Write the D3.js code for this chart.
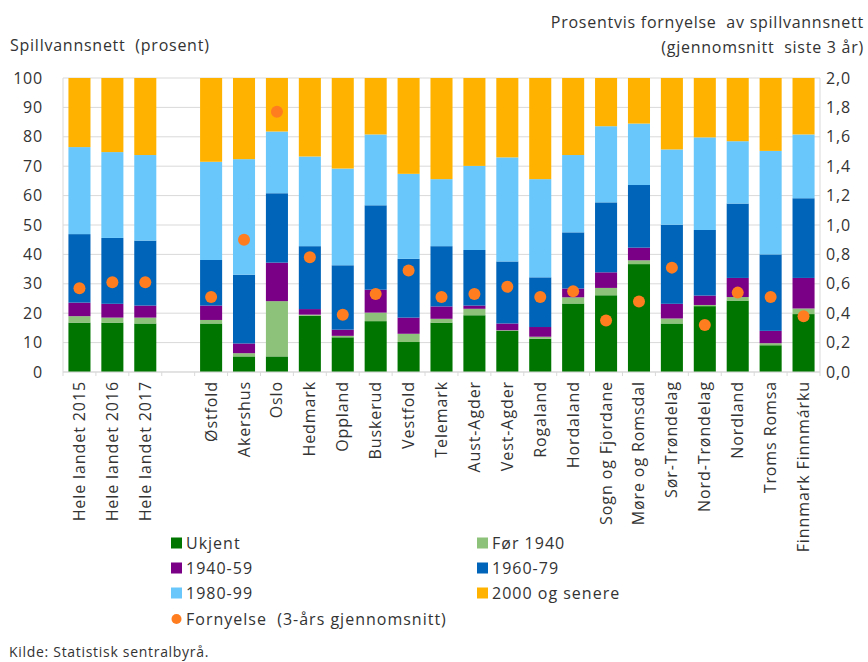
<!DOCTYPE html>
<html>
<head>
<meta charset="utf-8">
<script src="https://cdn.jsdelivr.net/npm/d3@7/dist/d3.min.js"></script>
<style>
  html, body { margin: 0; padding: 0; background: #fff; }
  svg { display: block; font-family: "Open Sans", sans-serif; }
</style>
</head>
<body>
<svg id="chart" width="868" height="662"></svg>
<script>
const categories = ["Hele landet 2015","Hele landet 2016","Hele landet 2017","",
  "Østfold","Akershus","Oslo","Hedmark","Oppland","Buskerud","Vestfold","Telemark",
  "Aust-Agder","Vest-Agder","Rogaland","Hordaland","Sogn og Fjordane","Møre og Romsdal",
  "Sør-Trøndelag","Nord-Trøndelag","Nordland","Troms Romsa","Finnmark Finnmárku"];

const ukjent   = [16.8,16.8,16.5,null,16.5, 5.3, 5.3,19.1,11.8,17.3,10.2,16.8,19.3,14.0,11.3,23.3,26.1,36.7,16.5,22.4,24.3, 9.1,19.7];
const for1940  = [ 2.2, 1.7, 2.0,null, 1.2, 1.1,18.8, 0.4, 0.5, 2.9, 2.8, 1.3, 2.2, 0.2, 0.7, 2.1, 2.5, 1.3, 1.7, 0.4, 1.2, 0.7, 1.9];
const s1940_59 = [ 4.6, 4.7, 4.1,null, 4.9, 3.3,13.1, 1.9, 2.1, 7.8, 5.5, 4.2, 1.1, 2.3, 3.3, 3.0, 5.3, 4.3, 5.0, 3.2, 6.5, 4.2,10.4];
const s1960_79 = [23.3,22.4,22.1,null,15.5,23.4,23.6,21.4,21.9,28.7,20.0,20.5,18.9,21.1,16.9,19.1,23.8,21.3,26.9,22.3,25.3,26.0,27.1];
const s1980_99 = [29.6,29.2,29.1,null,33.4,39.3,21.0,30.5,32.9,24.1,28.9,22.8,28.6,35.4,33.4,26.3,25.9,20.9,25.6,31.5,21.2,35.2,21.7];
const s2000    = [23.5,25.2,26.2,null,28.5,27.6,18.2,26.7,30.8,19.2,32.6,34.4,29.9,27.0,34.4,26.2,16.4,15.5,24.3,20.2,21.5,24.8,19.2];
const fornyelse = [0.57,0.61,0.61,null,0.51,0.90,1.77,0.78,0.39,0.53,0.69,0.51,0.53,0.58,0.51,0.55,0.35,0.48,0.71,0.32,0.54,0.51,0.38];

const seriesNames = ["Ukjent","Før 1940","1940-59","1960-79","1980-99","2000 og senere"];
const seriesColors = ["#007600","#8dc27b","#7a0085","#0064b8","#69c7fb","#ffb300"];
const dotName = "Fornyelse  (3-års gjennomsnitt)";
const dotColor = "#ff7d1f";
const leftTicks = [0,10,20,30,40,50,60,70,80,90,100];
const rightTicks = [0,0.2,0.4,0.6,0.8,1.0,1.2,1.4,1.6,1.8,2.0];

const svg = d3.select("#chart");
const textColor = "#333333";
const gridColor = "#d9d9d9";
const L = 63, R = 820, T = 78, B = 372;
const FS = "16px", LS = "0.8px";

const x = d3.scaleBand().domain(categories).range([L, R]).paddingInner(0.33).paddingOuter(0.165);
const y = d3.scaleLinear().domain([0, 100]).range([B, T]);
const y2 = d3.scaleLinear().domain([0, 2]).range([B, T]);

// gridlines
svg.append("g").selectAll("line").data(leftTicks).join("line")
  .attr("x1", L).attr("x2", R).attr("y1", d => y(d)).attr("y2", d => y(d))
  .attr("stroke", gridColor).attr("stroke-width", 1);
svg.append("line").attr("x1", L).attr("x2", L).attr("y1", T).attr("y2", B).attr("stroke", gridColor);
svg.append("line").attr("x1", R).attr("x2", R).attr("y1", T).attr("y2", B).attr("stroke", gridColor);

// stacked data
const seriesArrays = [ukjent, for1940, s1940_59, s1960_79, s1980_99, s2000];
const rows = categories.map((c, i) => {
  const o = { cat: c };
  seriesNames.forEach((n, k) => o[n] = seriesArrays[k][i]);
  return o;
}).filter(d => d.cat !== "");
const stack = d3.stack().keys(seriesNames).value((d, k) => d[k] || 0);
const stacked = stack(rows);

svg.append("g").selectAll("g").data(stacked).join("g")
  .attr("fill", (d, i) => seriesColors[i])
  .selectAll("rect").data(d => d).join("rect")
  .attr("x", d => x(d.data.cat))
  .attr("width", x.bandwidth())
  .attr("y", d => y(d[1]))
  .attr("height", d => Math.max(0, y(d[0]) - y(d[1])));

// x tick marks between categories
const gap = x.step() - x.bandwidth();
const bounds = categories.map(c => x(c) - gap / 2).concat([x(categories[categories.length - 1]) + x.bandwidth() + gap / 2]);
svg.append("g").selectAll("line").data(bounds).join("line")
  .attr("x1", d => d).attr("x2", d => d).attr("y1", B).attr("y2", B + 4)
  .attr("stroke", gridColor);
svg.append("line").attr("x1", L).attr("x2", R).attr("y1", B).attr("y2", B).attr("stroke", gridColor);

// dots
const dots = categories.map((c, i) => ({ cat: c, v: fornyelse[i] })).filter(d => d.v != null);
svg.append("g").selectAll("circle").data(dots).join("circle")
  .attr("cx", d => x(d.cat) + x.bandwidth() / 2)
  .attr("cy", d => y2(d.v))
  .attr("r", 6)
  .attr("fill", dotColor);

// left axis labels
const axL = svg.append("g").attr("transform", `translate(${L},0)`)
  .call(d3.axisLeft(y).tickValues(leftTicks).tickSize(0).tickPadding(20));
axL.select(".domain").remove();
axL.selectAll("text").attr("fill", textColor).style("font-size", FS).style("letter-spacing", LS).style("font-family", "Open Sans");

// right axis labels
const fmt = d => d3.format(".1f")(d).replace(".", ",");
const axR = svg.append("g").attr("transform", `translate(${R},0)`)
  .call(d3.axisRight(y2).tickValues(rightTicks).tickFormat(fmt).tickSize(0).tickPadding(6));
axR.select(".domain").remove();
axR.selectAll("text").attr("fill", textColor).style("font-size", FS).style("letter-spacing", LS).style("font-family", "Open Sans");

// x labels rotated
svg.append("g").selectAll("text").data(categories.filter(c => c !== "")).join("text")
  .attr("transform", d => `translate(${x(d) + x.bandwidth() / 2 + 5.5},${B + 9}) rotate(-90)`)
  .attr("text-anchor", "end")
  .attr("fill", textColor)
  .style("font-size", FS).style("letter-spacing", "0.9px")
  .text(d => d);

// titles
function title(xp, yp, anchor, t) {
  svg.append("text").attr("x", xp).attr("y", yp).attr("text-anchor", anchor).attr("fill", textColor)
    .style("font-size", FS).style("letter-spacing", "0.75px").attr("xml:space", "preserve").text(t);
}
title(10, 51, "start", "Spillvannsnett  (prosent)");
title(864, 28, "end", "Prosentvis fornyelse  av spillvannsnett");
title(864, 53, "end", "(gjennomsnitt  siste 3 år)");

// legend
const legItems = seriesNames.map((n, i) => ({ name: n, color: seriesColors[i], type: "rect" }));
legItems.push({ name: dotName, color: dotColor, type: "dot" });
const colX = [171, 477];
const rowY = [543, 568, 593, 619];
const lg = svg.append("g");
legItems.forEach((d, i) => {
  const cx = colX[i % 2], cy = rowY[Math.floor(i / 2)];
  if (d.type === "rect") {
    lg.append("rect").attr("x", cx).attr("y", cy - 5.5).attr("width", 11).attr("height", 11).attr("fill", d.color);
  } else {
    lg.append("circle").attr("cx", cx + 5.5).attr("cy", cy).attr("r", 5).attr("fill", d.color);
  }
  lg.append("text").attr("x", cx + 15).attr("y", cy).attr("dy", "0.35em").attr("fill", textColor)
    .style("font-size", FS).style("letter-spacing", "1px").attr("xml:space", "preserve").text(d.name);
});

// source
svg.append("text").attr("x", 9).attr("y", 652).attr("dy", "0.35em").attr("fill", textColor)
  .style("font-size", "14px").style("letter-spacing", "0.7px").text("Kilde: Statistisk sentralbyrå.");
</script>
</body>
</html>
